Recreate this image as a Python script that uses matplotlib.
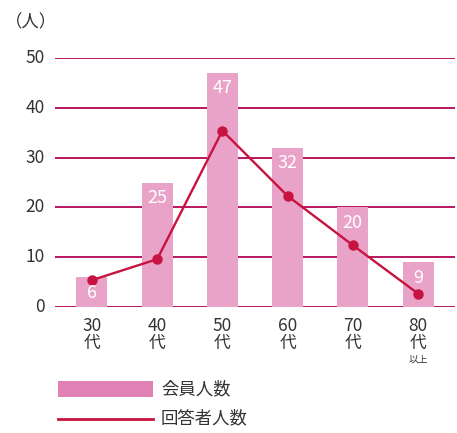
import matplotlib.pyplot as plt
import matplotlib.patches as mpatches

plt.rcParams['font.family'] = ['Noto Sans CJK JP', 'DejaVu Sans']

# data
ages = ['30', '40', '50', '60', '70', '80']
members = [6, 25, 47, 32, 20, 9]
respondents = [5.4, 9.6, 35.4, 22.3, 12.4, 2.7]
yticks = [0, 10, 20, 30, 40, 50]

bar_color = '#eaa3c8'
legend_bar = '#e081b6'
grid_color = '#b8165e'
line_color = '#c8123f'
text_color = '#333333'

W, H = 457, 433
fig = plt.figure(figsize=(W / 100, H / 100), dpi=100)
ax = fig.add_axes([55 / W, 126 / H, 400 / W, 249 / H])
ax.set_xlim(-0.567, 5.567)
ax.set_ylim(0, 50)
ax.axis('off')

x = list(range(len(ages)))

# grid lines behind bars
for t in yticks:
    ax.axhline(t, color=grid_color, lw=1.4, zorder=1)
    ax.text(-0.567 - 0.16, t, str(t), ha='right', va='center',
            fontsize=12.5, color=text_color, clip_on=False)

ax.text(-0.93, 57.2, '（人）', ha='center', va='center', fontsize=12.5,
        color=text_color, clip_on=False)

ax.bar(x, members, width=0.475, color=bar_color, zorder=2)
for xi, v in zip(x, members):
    ax.text(xi, v - 3.1, str(v), ha='center', va='center', color='white',
            fontsize=13, zorder=4)

ax.plot(x, respondents, color=line_color, lw=1.7, marker='o', ms=6.5,
        zorder=3, clip_on=False)

# x labels
for xi, a in zip(x, ages):
    ax.text(xi, -3.9, a, ha='center', va='center', fontsize=12.5,
            color=text_color, clip_on=False)
    ax.text(xi, -7.4, '代', ha='center', va='center', fontsize=12,
            color=text_color, clip_on=False)
ax.text(5, -10.6, '以上', ha='center', va='center', fontsize=7,
        color=text_color, clip_on=False)

# legend
fig.patches.append(mpatches.Rectangle((58 / W, 1 - 397 / H), 95 / W, 16 / H,
                                      transform=fig.transFigure,
                                      color=legend_bar, lw=0))
fig.text(161 / W, 1 - 389 / H, '会員人数', ha='left', va='center',
         fontsize=12.5, color=text_color)
fig.lines.append(plt.Line2D([58 / W, 153 / W], [1 - 419 / H, 1 - 419 / H],
                            transform=fig.transFigure, color=line_color, lw=2))
fig.text(161 / W, 1 - 418 / H, '回答者人数', ha='left', va='center',
         fontsize=12.5, color=text_color)

fig.savefig('out.png', dpi=100)
